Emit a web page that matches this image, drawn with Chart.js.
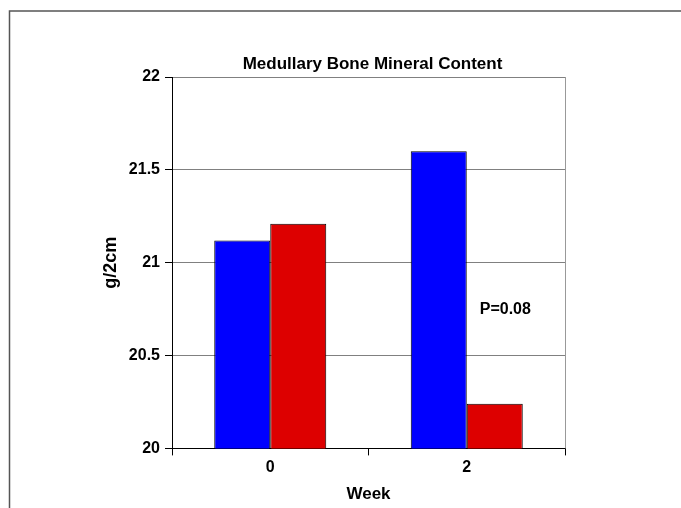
<!DOCTYPE html>
<html>
<head>
<meta charset="utf-8">
<script src="https://cdn.jsdelivr.net/npm/chart.js@4.4.1/dist/chart.umd.min.js"></script>
<style>
  html, body { margin: 0; padding: 0; background: #fff; }
  #chart { display: block; }
</style>
</head>
<body>
<canvas id="chart" width="681" height="508"></canvas>
<script>
// date
const weeks = ['0', '2'];
const series1 = [21.12, 21.6];
const series2 = [21.21, 20.24];
const yTicks = [20, 20.5, 21, 21.5, 22];
const yTickLabels = ['20', '20.5', '21', '21.5', '22'];
const chartTitle = 'Medullary Bone Mineral Content';
const noteText = 'P=0.08';
const noteY = 20.75;

const FONT = '"Liberation Sans", Arial, sans-serif';

// rama exterioara (doar sus si stanga), marginea dreapta, titlul si textul P
const extras = {
    id: 'extras',
    beforeDraw(chart) {
        const c = chart.ctx;
        c.save();
        c.fillStyle = '#ffffff';
        c.fillRect(0, 0, chart.width, chart.height);
        c.strokeStyle = '#555555';
        c.lineWidth = 1.5;
        c.beginPath();
        c.moveTo(9.5, chart.height);
        c.lineTo(9.5, 11);
        c.lineTo(chart.width, 11);
        c.stroke();
        c.restore();
    },
    afterDatasetsDraw(chart) {
        const c = chart.ctx;
        const a = chart.chartArea;
        c.save();
        c.strokeStyle = '#999999';
        c.lineWidth = 1;
        c.beginPath();
        c.moveTo(a.right + 0.5, a.top);
        c.lineTo(a.right + 0.5, a.bottom);
        c.stroke();

        const xs = chart.scales.x, ys = chart.scales.y;
        c.fillStyle = '#000';
        c.textBaseline = 'middle';
        // titlul, centrat pe zona graficului
        c.font = 'bold 17px ' + FONT;
        c.textAlign = 'center';
        c.fillText(chartTitle, (a.left + a.right) / 2 + 4, a.top - 13);
        // textul P
        c.font = 'bold 16px ' + FONT;
        c.textAlign = 'left';
        c.fillText(noteText, xs.getPixelForValue(1) + 13, ys.getPixelForValue(noteY));
        c.restore();
    }
};

Chart.defaults.font.family = FONT;
Chart.defaults.color = '#000';

new Chart(document.getElementById('chart').getContext('2d'), {
    type: 'bar',
    data: {
        labels: weeks,
        datasets: [{
            label: 'Series 1',
            data: series1,
            backgroundColor: '#0000ff',
            borderColor: '#000000',
            borderWidth: 1,
            borderSkipped: false
        }, {
            label: 'Series 2',
            data: series2,
            backgroundColor: '#dd0000',
            borderColor: '#000000',
            borderWidth: 1,
            borderSkipped: false
        }]
    },
    options: {
        responsive: false,
        animation: false,
        layout: {
            padding: { left: 96, right: 116, top: 77, bottom: 3 }
        },
        datasets: {
            bar: { categoryPercentage: 0.57, barPercentage: 1.0 }
        },
        scales: {
            x: {
                offset: true,
                grid: {
                    offset: true,
                    drawOnChartArea: false,
                    drawTicks: true,
                    tickLength: 7,
                    tickColor: '#000'
                },
                border: { color: '#000', width: 1 },
                ticks: {
                    padding: 3,
                    font: { size: 16, weight: 'bold' }
                },
                title: {
                    display: true,
                    text: 'Week',
                    font: { size: 17, weight: 'bold' },
                    padding: { top: 4, bottom: 0 }
                }
            },
            y: {
                min: 20,
                max: 22,
                afterFit(scale) { scale.width = 172 - 96; },
                afterBuildTicks(scale) {
                    scale.ticks = yTicks.map(v => ({ value: v }));
                },
                grid: {
                    color: '#808080',
                    tickLength: 7,
                    tickColor: '#000'
                },
                border: { color: '#000', width: 1 },
                ticks: {
                    padding: 5,
                    font: { size: 16, weight: 'bold' },
                    callback: function(value, index) {
                        return yTickLabels[index];
                    }
                },
                title: {
                    display: true,
                    text: 'g/2cm',
                    font: { size: 18, weight: 'bold' },
                    padding: { top: 4, bottom: 0 }
                }
            }
        },
        plugins: {
            legend: { display: false },
            tooltip: { enabled: false },
            title: { display: false }
        }
    },
    plugins: [extras]
});
</script>
</body>
</html>
